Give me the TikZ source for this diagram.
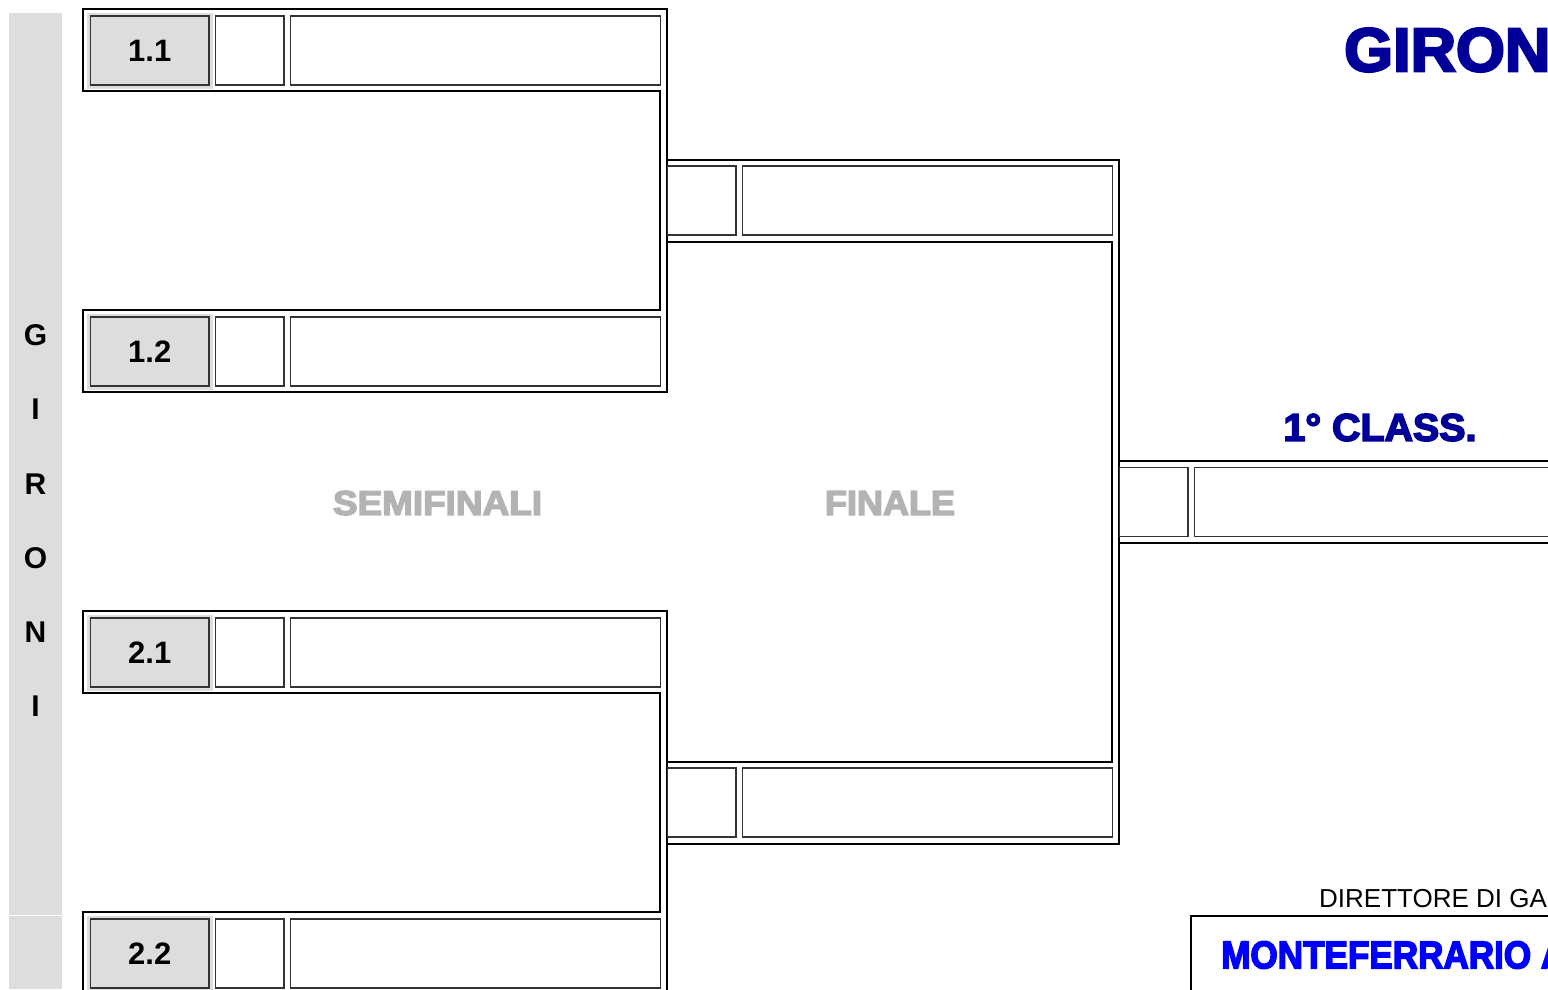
\documentclass[tikz,border=0pt]{standalone}
\usepackage{fontspec}
\usepackage{graphicx}
\setmainfont{Liberation Sans}
\newfontfamily\blk{Liberation Sans}[UprightFont={* Bold},FakeBold=4]
\definecolor{stripc}{HTML}{DDDDDD}
\definecolor{cellgray}{HTML}{DDDDDD}
\definecolor{cellc}{HTML}{333333}
\definecolor{navy}{HTML}{000099}
\definecolor{brightblue}{HTML}{0000FF}
\definecolor{lbl}{HTML}{B3B3B3}
\begin{document}
\begin{tikzpicture}[x=1pt,y=-1pt,
  bframe/.style={draw=black,line width=1.3pt},
  wcell/.style={draw=cellc,line width=1.4pt,fill=white,inner sep=0pt,minimum height=69pt},
  graycell/.style={wcell,fill=cellgray,minimum width=118.5pt,font=\bfseries\fontsize{31pt}{31pt}\selectfont},
  sqcell/.style={wcell,minimum width=68.5pt},
  longcell/.style={wcell,minimum width=370pt},
  halobox/.style={fill=cellgray},
  sideletter/.style={font=\bfseries\fontsize{30pt}{30pt}\selectfont,inner sep=0pt},
  bigtext/.style={inner sep=0pt}
]
\useasboundingbox (0,0) rectangle (1548,989);
\clip (0,0) rectangle (1548,989);

% left strip
\fill[stripc] (9,13) rectangle (62,989);
\draw[white,line width=1.6pt] (9,915.5) -- (62,915.5);
\node[sideletter] (lG) at (35.5,335) {G};
\node[sideletter] (lI) at (35.5,409) {I};
\node[sideletter] (lR) at (35.5,484) {R};
\node[sideletter] (lO) at (35.5,558) {O};
\node[sideletter] (lN) at (35.5,632) {N};
\node[sideletter] (lI2) at (35.5,706) {I};

% bracket outlines
\draw[bframe] (83,9) -- (667,9) -- (667,392) -- (83,392) -- (83,310) -- (660,310) -- (660,91) -- (83,91) -- cycle;
\draw[bframe] (83,611) -- (667,611) -- (667,996) -- (83,996) -- (83,912) -- (660,912) -- (660,693) -- (83,693) -- cycle;
\draw[bframe] (667,160) -- (1119,160) -- (1119,844) -- (667,844) -- (667,762) -- (1112,762) -- (1112,242) -- (667,242) -- cycle;
\draw[bframe] (1119,461) -- (1560,461);
\draw[bframe] (1119,543) -- (1560,543);
\draw[bframe] (1191,995) -- (1191,916) -- (1560,916);

% gray halos
\foreach \yy in {50.5,351.5,652.5,953.5}{
  \fill[halobox] (87,\yy-38) rectangle (212.5,\yy+38);
}

% semifinal rows
\node[graycell] (g11) at (149.75,50.5) {1.1};
\node[sqcell] (s11) at (249.75,50.5) {};
\node[longcell] (n11) at (475.5,50.5) {};
\node[graycell] (g12) at (149.75,351.5) {1.2};
\node[sqcell] (s12) at (249.75,351.5) {};
\node[longcell] (n12) at (475.5,351.5) {};
\node[graycell] (g21) at (149.75,652.5) {2.1};
\node[sqcell] (s21) at (249.75,652.5) {};
\node[longcell] (n21) at (475.5,652.5) {};
\node[graycell] (g22) at (149.75,953.5) {2.2};
\node[sqcell] (s22) at (249.75,953.5) {};
\node[longcell] (n22) at (475.5,953.5) {};

% finale rows
\node[sqcell] (fs1) at (701.75,200.5) {};
\node[longcell] (fn1) at (927.5,200.5) {};
\node[sqcell] (fs2) at (701.75,802.5) {};
\node[longcell] (fn2) at (927.5,802.5) {};

% winner row
\node[sqcell] (ws) at (1153.75,502.25) {};
\node[wcell,minimum width=365.5pt] (wn) at (1377.25,502.25) {};

% labels
\node[bigtext,text=lbl] (semi) at (437.5,503) {\resizebox{209pt}{24pt}{\blk SEMIFINALI}};
\node[bigtext,text=lbl] (fin) at (890,503) {\resizebox{130pt}{24pt}{\blk FINALE}};
\node[bigtext,text=navy,anchor=west] (title) at (1344,50) {\resizebox{206pt}{43pt}{\blk GIRON}};
\node[bigtext,text=navy] (cls) at (1380,427.5) {\resizebox{193pt}{27pt}{\blk 1° CLASS.}};
\node[inner sep=0pt,anchor=base west,font=\fontsize{26pt}{26pt}\selectfont] (dir) at (1319,907) {DIRETTORE DI GA};
\node[bigtext,text=brightblue,anchor=west] (mont) at (1221,955) {\resizebox{345pt}{27pt}{\blk MONTEFERRARIO A}};
\end{tikzpicture}
\end{document}
